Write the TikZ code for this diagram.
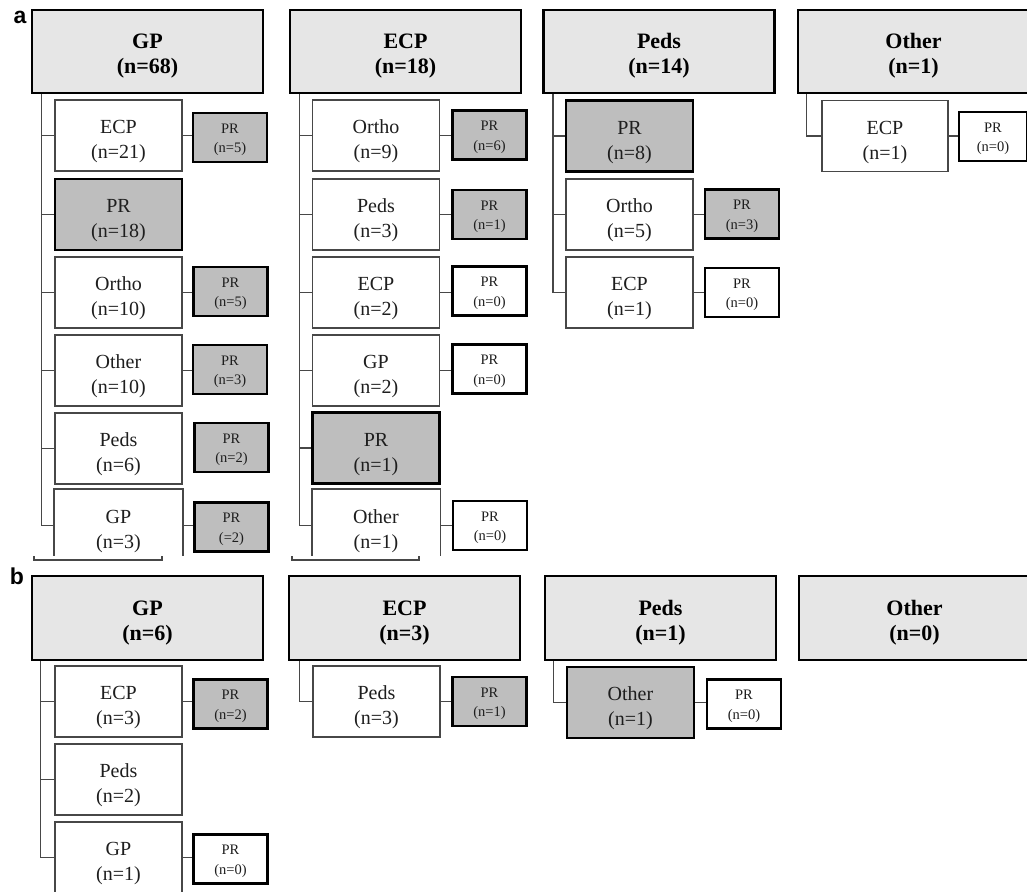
\documentclass[tikz,border=0pt]{standalone}
\usepackage{fontspec}
\setmainfont{Liberation Serif}
\newfontfamily\labelfont{Liberation Sans}
\definecolor{hdrfill}{HTML}{E6E6E6}
\definecolor{prfill}{HTML}{BEBEBE}
\definecolor{linegray}{HTML}{474747}
\definecolor{txt}{HTML}{1E1E1E}
\newcommand\myHs{\rule{0pt}{24pt}}
\newcommand\myKs{\rule{0pt}{25.5pt}}
\newcommand\myPs{\rule{0pt}{14.5pt}}
\begin{document}
\begin{tikzpicture}[x=1pt,y=-1pt,
  hdr/.style={draw=black, line width=2.8pt, fill=hdrfill, minimum width=231pt, minimum height=83pt, inner sep=0pt, align=center, font=\fontsize{22}{25}\selectfont\bfseries},
  kid/.style={draw=linegray, line width=1.6pt, fill=white, minimum width=127pt, minimum height=71pt, inner sep=0pt, align=center, text=txt, font=\fontsize{20}{25}\selectfont},
  kidpr/.style={kid, draw=black, line width=2.5pt, fill=prfill},
  prbox/.style={draw=black, line width=2.8pt, fill=prfill, minimum width=74pt, minimum height=49pt, inner sep=0pt, align=center, text=txt, font=\fontsize{14.5}{19.5}\selectfont},
  prwhite/.style={prbox, fill=white},
  conn/.style={draw=linegray, line width=1.6pt},
  openside/.style={draw=linegray, line width=1.6pt},
  lab/.style={font=\labelfont\bfseries\fontsize{23}{23}\selectfont, inner sep=0pt}
]
\useasboundingbox (0,0) rectangle (1027,891);
\fill[white] (0,0) rectangle (1027,891);

% ---------------- section a ----------------
\node[lab] (la) at (20,17) {a};

% GP column
\node[hdr] (aGP) at (147.5,51.5) {\myHs GP\\(n=68)};
\node[kid] (aGP1) at (118.5,135.5) {\myKs ECP\\(n=21)};
\node[kidpr] (aGP2) at (118.5,214.5) {\myKs PR\\(n=18)};
\node[kid] (aGP3) at (118.5,292.5) {\myKs Ortho\\(n=10)};
\node[kid] (aGP4) at (118.5,370.5) {\myKs Other\\(n=10)};
\node[kid] (aGP5) at (118.5,448.5) {\myKs Peds\\(n=6)};
\node[kid, draw=none] (aGP6) at (118.5,525.5) {\myKs GP\\(n=3)};
\draw[openside] ([yshift=6pt]aGP6.south west) -- (aGP6.north west) -- (aGP6.north east) -- ([yshift=6pt]aGP6.south east);
\node[prbox] (aGPp1) at (230,137.5) {\myPs PR\\(n=5)};
\node[prbox] (aGPp3) at (230.5,291.5) {\myPs PR\\(n=5)};
\node[prbox] (aGPp4) at (230,369.5) {\myPs PR\\(n=3)};
\node[prbox] (aGPp5) at (231.5,447.5) {\myPs PR\\(n=2)};
\node[prbox] (aGPp6) at (231.5,527) {\myPs PR\\(=2)};
\foreach \c in {1,...,6} \draw[conn] ([xshift=11pt]aGP.south west) |- (aGP\c.west);
\foreach \c in {1,3,4,6} \draw[conn] (aGP\c.east) -- (aGP\c.east -| aGPp\c.west);
\draw[openside] (34,556) -- (34,560) -- (162,560) -- (162,556);

% ECP column
\node[hdr] (aECP) at (405.5,51.5) {\myHs ECP\\(n=18)};
\node[kid] (aECP1) at (376,135.5) {\myKs Ortho\\(n=9)};
\node[kid] (aECP2) at (376,214.5) {\myKs Peds\\(n=3)};
\node[kid] (aECP3) at (376,292.5) {\myKs ECP\\(n=2)};
\node[kid] (aECP4) at (376,370.5) {\myKs GP\\(n=2)};
\node[kidpr] (aECP5) at (376,448) {\myKs PR\\(n=1)};
\node[kid, draw=none] (aECP6) at (376,525.5) {\myKs Other\\(n=1)};
\draw[openside] ([yshift=6pt]aECP6.south west) -- (aECP6.north west) -- (aECP6.north east) -- ([yshift=6pt]aECP6.south east);
\node[prbox] (aECPp1) at (489.5,135) {\myPs PR\\(n=6)};
\node[prbox] (aECPp2) at (489.5,214.5) {\myPs PR\\(n=1)};
\node[prwhite] (aECPp3) at (489.5,291) {\myPs PR\\(n=0)};
\node[prwhite] (aECPp4) at (489.5,369) {\myPs PR\\(n=0)};
\node[prwhite] (aECPp6) at (490,525.5) {\myPs PR\\(n=0)};
\foreach \c in {1,...,6} \draw[conn] ([xshift=11pt]aECP.south west) |- (aECP\c.west);
\foreach \c in {1,2,3,4,6} \draw[conn] (aECP\c.east) -- (aECP\c.east -| aECPp\c.west);
\draw[openside] (292,556) -- (292,560) -- (419,560) -- (419,556);

% Peds column
\node[hdr] (aPeds) at (659,51.5) {\myHs Peds\\(n=14)};
\node[kidpr] (aPeds1) at (629.5,136) {\myKs PR\\(n=8)};
\node[kid] (aPeds2) at (629.5,214.5) {\myKs Ortho\\(n=5)};
\node[kid] (aPeds3) at (629.5,292.5) {\myKs ECP\\(n=1)};
\node[prbox] (aPedsp2) at (742,214) {\myPs PR\\(n=3)};
\node[prwhite] (aPedsp3) at (742,292.5) {\myPs PR\\(n=0)};
\foreach \c in {1,2,3} \draw[conn] ([xshift=11pt]aPeds.south west) |- (aPeds\c.west);
\foreach \c in {2,3} \draw[conn] (aPeds\c.east) -- (aPeds\c.east -| aPedsp\c.west);

% Other column
\node[hdr] (aOth) at (913.5,51.5) {\myHs Other\\(n=1)};
\node[kid, minimum width=126pt] (aOth1) at (885,136) {\myKs ECP\\(n=1)};
\node[prwhite, minimum width=68pt] (aOthp1) at (993,136.5) {\myPs PR\\(n=0)};
\draw[conn] ([xshift=10pt]aOth.south west) |- (aOth1.west);
\draw[conn] (aOth1.east) -- (aOth1.east -| aOthp1.west);

% ---------------- section b ----------------
\node[lab] (lb) at (17,576) {b};

% GP column
\node[hdr, minimum height=84pt] (bGP) at (147.5,618) {\myHs GP\\(n=6)};
\node[kid] (bGP1) at (118.5,701.5) {\myKs ECP\\(n=3)};
\node[kid] (bGP2) at (118.5,779.5) {\myKs Peds\\(n=2)};
\node[kid] (bGP3) at (118.5,857.5) {\myKs GP\\(n=1)};
\node[prbox] (bGPp1) at (230.5,704) {\myPs PR\\(n=2)};
\node[prwhite] (bGPp3) at (230.5,859) {\myPs PR\\(n=0)};
\foreach \c in {1,2,3} \draw[conn] ([xshift=10pt]bGP.south west) |- (bGP\c.west);
\foreach \c in {1,3} \draw[conn] (bGP\c.east) -- (bGP\c.east -| bGPp\c.west);

% ECP column
\node[hdr, minimum height=84pt] (bECP) at (404.5,618) {\myHs ECP\\(n=3)};
\node[kid] (bECP1) at (376.5,701.5) {\myKs Peds\\(n=3)};
\node[prbox] (bECPp1) at (489.5,701.5) {\myPs PR\\(n=1)};
\draw[conn] ([xshift=12pt]bECP.south west) |- (bECP1.west);
\draw[conn] (bECP1.east) -- (bECP1.east -| bECPp1.west);

% Peds column
\node[hdr, minimum height=84pt] (bPeds) at (660.5,618) {\myHs Peds\\(n=1)};
\node[kidpr] (bPeds1) at (630.5,702.5) {\myKs Other\\(n=1)};
\node[prwhite] (bPedsp1) at (744,704) {\myPs PR\\(n=0)};
\draw[conn] ([xshift=10pt]bPeds.south west) |- (bPeds1.west);
\draw[conn] (bPeds1.east) -- (bPeds1.east -| bPedsp1.west);

% Other column
\node[hdr, minimum height=84pt] (bOth) at (914.5,618) {\myHs Other\\(n=0)};
\end{tikzpicture}
\end{document}
